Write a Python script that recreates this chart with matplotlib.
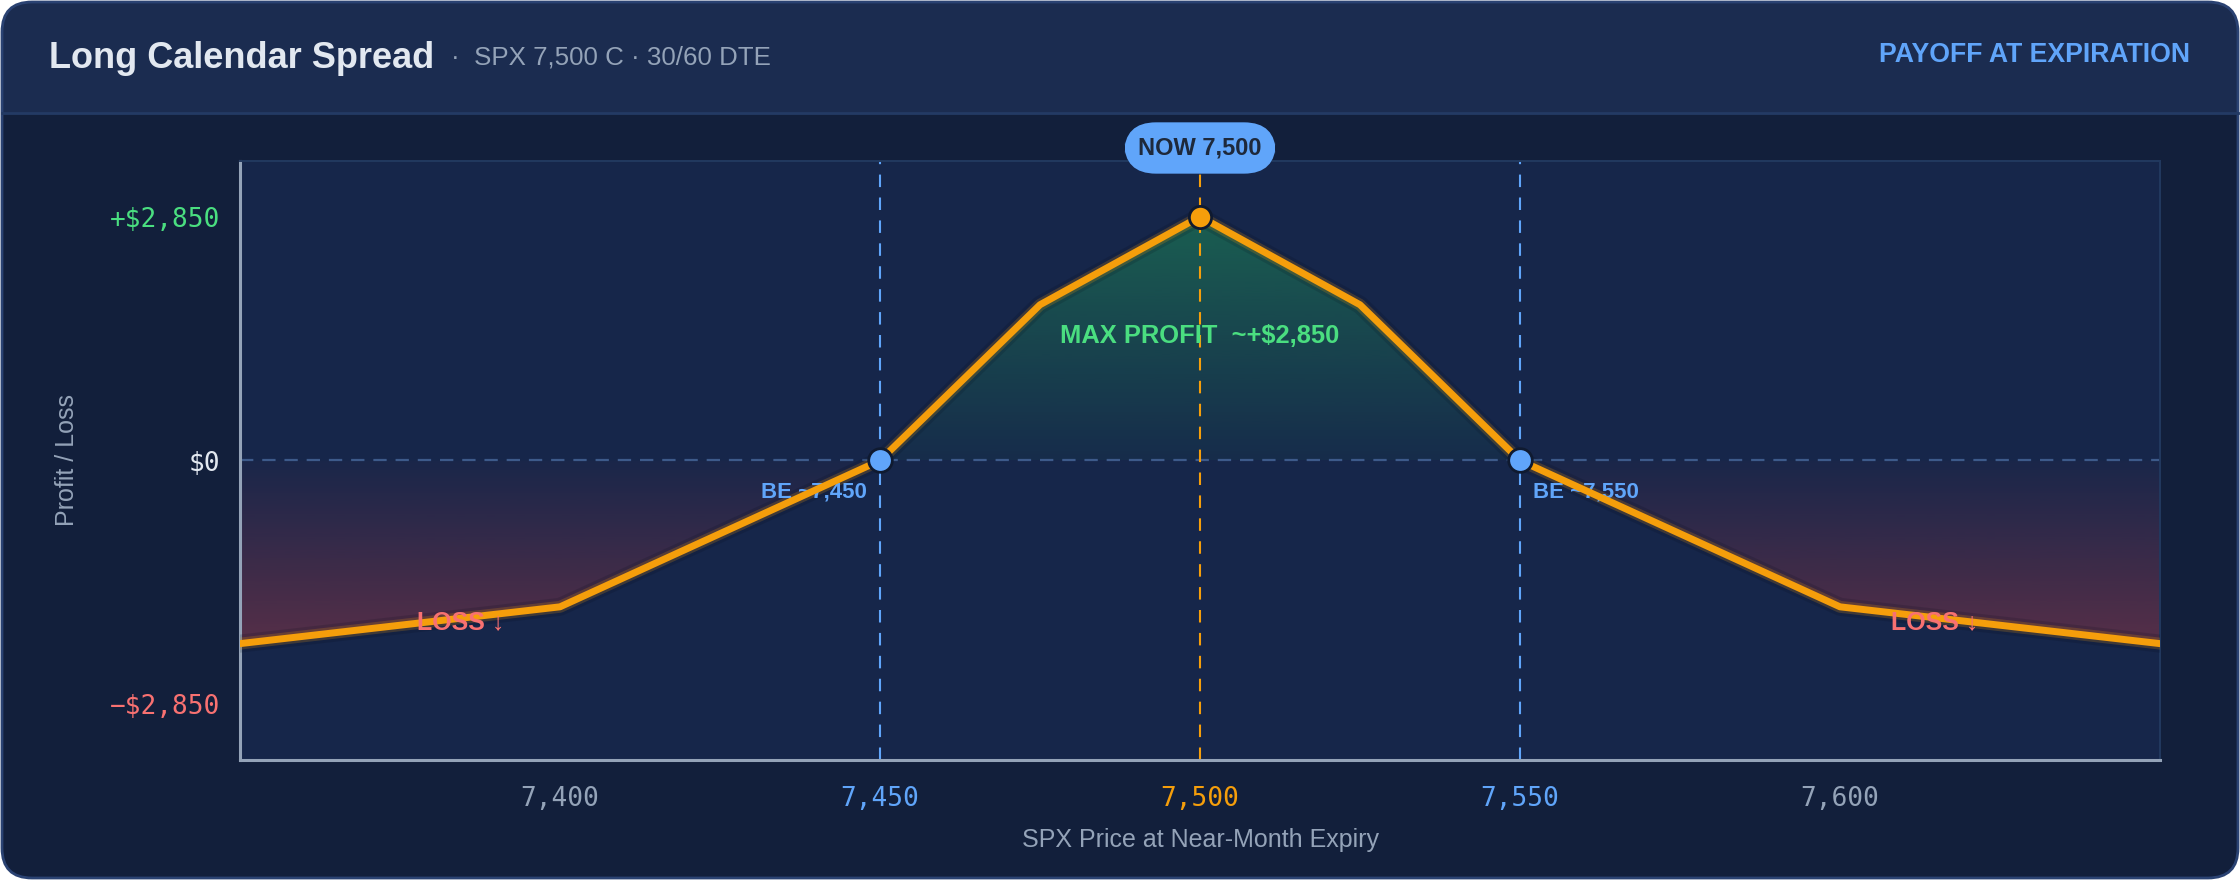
"""
Long calendar spread payoff chart (SPX 7,500 C, 30/60 DTE).
"""

import numpy as np
import matplotlib.pyplot as plt
from matplotlib.patches import FancyBboxPatch, PathPatch, Rectangle
from matplotlib.path import Path
from matplotlib.colors import to_rgb

# ----------------------------------------------------------------------
# Data
# ----------------------------------------------------------------------
price = np.array([7350, 7400, 7450, 7475, 7500, 7525, 7550, 7600, 7650])
pnl = np.array([-2140, -1710, 0, 1820, 2850, 1820, 0, -1710, -2140])
break_evens = [7450, 7550]
spot = 7500
max_profit = 2850

x_ticks = [7400, 7450, 7500, 7550, 7600]
x_tick_labels = ['7,400', '7,450', '7,500', '7,550', '7,600']
y_ticks = [-2850, 0, 2850]
y_tick_labels = ['\u2212$2,850', '$0', '+$2,850']

# ----------------------------------------------------------------------
# Colours
# ----------------------------------------------------------------------
CARD = '#121f3b'
HEADER = '#1b2c50'
DIVIDER = '#233a64'
PLOT_BG = '#16264a'
FRAME = '#22395f'
BORDER = '#2a4272'
ORANGE = '#f59e0b'
BLUE = '#60a5fa'
GREEN = '#4ade80'
RED = '#f87171'
MUTED = '#94a3b8'
WHITE = '#e2e8f0'

SANS = ['Liberation Sans', 'DejaVu Sans']
MONO = 'DejaVu Sans Mono'

W, H = 2240, 880
fig = plt.figure(figsize=(W / 200, H / 200), dpi=200, facecolor='white')

# background card drawn in pixel coordinates
bg = fig.add_axes([0, 0, 1, 1], zorder=0)
bg.set_xlim(0, W)
bg.set_ylim(H, 0)
bg.axis('off')
bg.add_patch(FancyBboxPatch((2, 2), W - 4, H - 4,
                            boxstyle='round,pad=0,rounding_size=30',
                            fc=CARD, ec='none'))
bg.add_patch(FancyBboxPatch((2, 2), W - 4, 160,
                            boxstyle='round,pad=0,rounding_size=30',
                            fc=HEADER, ec='none'))
bg.add_patch(Rectangle((2, 113), W - 4, 60, fc=CARD, ec='none'))
bg.plot([2, W - 2], [113, 113], color=DIVIDER, lw=1.0)
bg.add_patch(FancyBboxPatch((2, 2), W - 4, H - 4,
                            boxstyle='round,pad=0,rounding_size=30',
                            fc='none', ec=BORDER, lw=1.0))

bg.text(49, 59, 'Long Calendar Spread', fontsize=13, weight='bold',
        color=WHITE, va='center', family=SANS)
bg.text(451, 58, '\u00b7  SPX 7,500 C \u00b7 30/60 DTE', fontsize=9.3,
        color=MUTED, va='center', family=SANS)
bg.text(2190, 55, 'PAYOFF AT EXPIRATION', fontsize=9.6, weight='bold',
        color=BLUE, va='center', ha='right', family=SANS)

# ----------------------------------------------------------------------
# Main plot
# ----------------------------------------------------------------------
ax = fig.add_axes([240 / W, 120 / H, 1920 / W, 599 / H], zorder=1)
ax.set_facecolor(PLOT_BG)


def gradient_fill(ax, x, y_top, y_bot, color, y0, y1, a0, a1):
    verts = np.column_stack([np.r_[x, x[::-1]], np.r_[y_top, y_bot[::-1]]])
    clip = PathPatch(Path(verts), fc='none', ec='none', transform=ax.transData)
    ax.add_patch(clip)
    grad = np.zeros((256, 1, 4))
    grad[..., :3] = to_rgb(color)
    grad[:, 0, 3] = np.linspace(a0, a1, 256)
    im = ax.imshow(grad, extent=[x.min(), x.max(), y0, y1], origin='lower',
                   aspect='auto', zorder=1, interpolation='bilinear')
    im.set_clip_path(clip)


zeros = np.zeros_like(pnl)
gradient_fill(ax, price, np.maximum(pnl, 0), zeros, '#22c55e',
              0, max_profit, 0.04, 0.36)
gradient_fill(ax, price, zeros, np.minimum(pnl, 0), '#ef4444',
              pnl.min(), 0, 0.30, 0.02)

# reference lines
ax.axhline(0, color='#3d5a8a', lw=0.8, ls=(0, (6, 4)), zorder=2)
for be in break_evens:
    ax.axvline(be, color=BLUE, lw=0.75, ls=(0, (6, 5)), zorder=2)
ax.axvline(spot, color=ORANGE, lw=0.75, ls=(0, (6, 5)), zorder=2)

# payoff line with shadow and glow
ax.plot(price, pnl, color='#050a18', lw=6.5, alpha=0.15, zorder=3,
        solid_joinstyle='round')
ax.plot(price, pnl, color=ORANGE, lw=4.3, alpha=0.20, zorder=3,
        solid_joinstyle='round')
ax.plot(price, pnl, color=ORANGE, lw=2.5, zorder=4, solid_joinstyle='round')

# markers
ax.plot(break_evens, [0, 0], 'o', ms=8.5, mfc=BLUE, mec='#0f1a30', mew=1,
        zorder=6)
ax.plot([spot], [max_profit], 'o', ms=8, mfc=ORANGE, mec='#0f1a30', mew=1,
        zorder=6)

# annotations
ax.annotate('BE ~7,450', (break_evens[0], 0), xytext=(-4.7, -11.5),
            textcoords='offset points', ha='right', va='center',
            fontsize=8, weight='bold', color=BLUE, family=SANS, zorder=3)
ax.annotate('BE ~7,550', (break_evens[1], 0), xytext=(4.7, -11.5),
            textcoords='offset points', ha='left', va='center',
            fontsize=8, weight='bold', color=BLUE, family=SANS, zorder=3)
ax.text(spot, max_profit * 0.51, 'MAX PROFIT  ~+$2,850', ha='center',
        va='center', fontsize=9.2, weight='bold', color=GREEN, family=SANS,
        zorder=5)
ax.text(7384.5, -1894, 'LOSS \u2193', ha='center', va='center', fontsize=9,
        weight='bold', color=RED, family=SANS, zorder=5)
ax.text(7614.8, -1894, 'LOSS \u2193', ha='center', va='center', fontsize=9,
        weight='bold', color=RED, family=SANS, zorder=5)
ax.text(spot, 3652, 'NOW 7,500', ha='center', va='center', fontsize=8.5,
        weight='bold', color='#1e293b', family=SANS, zorder=8, clip_on=False,
        bbox=dict(boxstyle='round,pad=0.6,rounding_size=1.35', fc=BLUE,
                  ec='none'))

# axes styling
ax.set_xlim(7350, 7650)
ax.set_ylim(-3500, 3500)
ax.set_xticks(x_ticks, x_tick_labels)
ax.set_yticks(y_ticks, y_tick_labels)
ax.tick_params(axis='x', length=0, pad=9.4, labelsize=9.4)
ax.tick_params(axis='y', length=0, pad=7.2, labelsize=9.4)
for lab, c in zip(ax.get_xticklabels(), [MUTED, BLUE, ORANGE, BLUE, MUTED]):
    lab.set_color(c)
    lab.set_family(MONO)
for lab, c in zip(ax.get_yticklabels(), [RED, WHITE, GREEN]):
    lab.set_color(c)
    lab.set_family(MONO)

for side in ['left', 'bottom']:
    ax.spines[side].set_color(MUTED)
    ax.spines[side].set_linewidth(1.1)
for side in ['top', 'right']:
    ax.spines[side].set_color(FRAME)
    ax.spines[side].set_linewidth(0.7)

ax.set_xlabel('SPX Price at Near-Month Expiry', fontsize=9, color=MUTED,
              family=SANS, va='center')
ax.xaxis.set_label_coords(0.5, -80 / 599)
ax.set_ylabel('Profit / Loss', fontsize=9, color=MUTED, family=SANS,
              va='center')
ax.yaxis.set_label_coords(-173 / 1920, 0.5)

fig.savefig('out.png', dpi=200, facecolor=fig.get_facecolor())
